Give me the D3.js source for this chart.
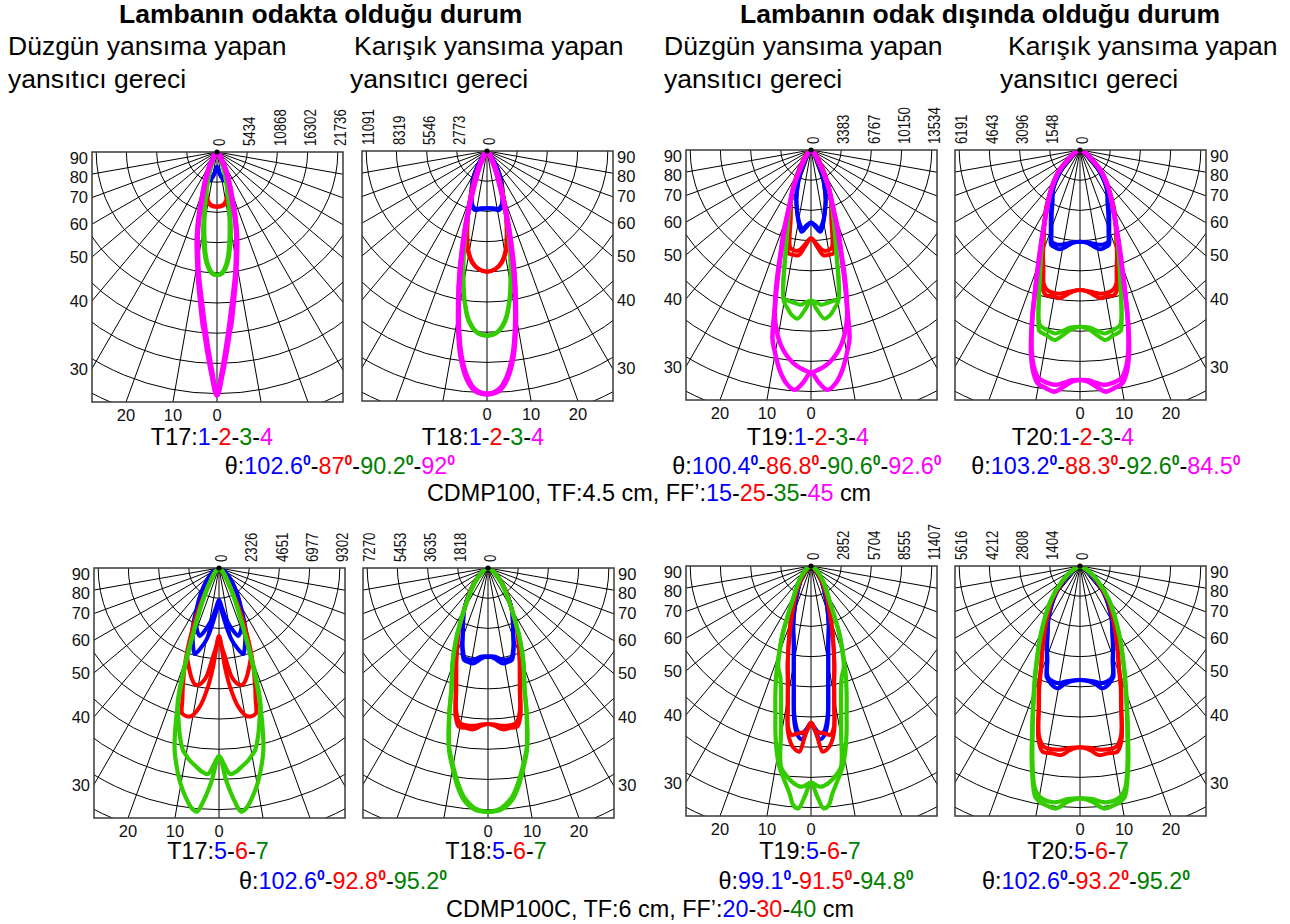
<!DOCTYPE html>
<html><head><meta charset="utf-8">
<script src="https://cdn.jsdelivr.net/npm/d3@7"></script>
<style>body{margin:0;background:#fff}svg{display:block}text{font-family:"Liberation Sans",Arial,sans-serif}</style>
</head><body><svg id="c" width="1290" height="924"></svg>
<script>
// ---------- intensity tick labels (cd) ----------
const T17T_TICKS=[0,5434,10868,16302,21736];
const T18T_TICKS=[0,2773,5546,8319,11091];
const T19T_TICKS=[0,3383,6767,10150,13534];
const T20T_TICKS=[0,1548,3096,4643,6191];
const T17B_TICKS=[0,2326,4651,6977,9302];
const T18B_TICKS=[0,1818,3635,5453,7270];
const T19B_TICKS=[0,2852,5704,8555,11407];
const T20B_TICKS=[0,1404,2808,4212,5616];
const SIDE_ANGLES=[90,80,70,60,50,40,30];
const BOTTOM_ANGLES=[20,10,0];

// ---------- curves: [angle from nadir (deg), intensity (cd)], two planes per lamp ----------
const T17T_1=[[[0,2640],[5,3480],[8,4260],[13,5220],[17,5520],[20.5,4800],[22.6,3900],[26.6,2700],[31,1380],[45,360],[90,0]],
 [[0,2640],[5,3300],[8,4080],[13,5040],[17,5340],[20.5,4620],[23,3720],[27,2580],[31,1320],[45,360],[90,0]]];
const T17T_2=[[[0,9840],[7,9660],[11.7,8880],[14.8,7740],[17.7,6300],[21.8,4500],[26.6,2700],[33.7,1080],[60,120],[90,0]],
 [[0,9840],[7,9540],[11.7,8640],[14.8,7500],[17.7,6180],[21.8,4440],[26.6,2640],[33.7,1080],[60,120],[90,0]]];
const T17T_3=[[[0,22140],[2.4,21900],[4.6,20760],[6.2,19320],[8.1,16980],[10.3,14040],[11.5,12000],[13.5,9600],[15.7,7080],[20,3840],[25,1800],[40,480],[90,0]],
 [[0,22140],[2.4,21700],[4.6,20300],[6.2,18600],[8.1,15800],[10.3,12600],[12,10200],[14,8100],[16,6300],[20,3800],[25,1800],[40,480],[90,0]]];
const T17T_4=[[[0,43740],[1.3,40200],[2.7,36060],[4,32460],[4.6,31320],[6.3,27180],[8.4,23040],[11.7,17760],[13,16020],[15.4,12420],[17.4,9420],[20.8,6420],[26.6,3360],[31,1380],[45,480],[90,0]],
 [[0,43740],[1.3,39600],[2.7,35200],[4,31500],[5,29000],[6.5,25800],[8.6,22200],[11.7,17200],[13,15600],[15.4,12200],[17.4,9300],[20.8,6300],[26.6,3300],[31,1350],[45,480],[90,0]]];

const T18T_1=[[[0,5263],[6.6,5355],[11.1,5539],[15.3,5233],[19.9,4223],[24.2,3366],[28.5,2448],[31.9,1622],[36.9,765],[60,150],[90,0]],
 [[0,5263],[6.6,5300],[11.1,5420],[15.3,5110],[19.9,4130],[24.2,3300],[28.5,2400],[31.9,1600],[36.9,760],[60,150],[90,0]]];
const T18T_2=[[[0,11077],[4,10894],[7.6,10343],[10.8,9333],[13.5,7864],[16.2,6365],[19.1,4865],[22.8,3305],[27,1897],[32.5,796],[60,150],[90,0]],
 [[0,11077],[4,10850],[7.6,10250],[10.8,9200],[13.5,7750],[16.2,6280],[19.1,4800],[22.8,3260],[27,1870],[32.5,790],[60,150],[90,0]]];
const T18T_3=[[[0,16952],[3.2,16708],[6.2,15698],[8.6,13923],[10.7,11842],[13.1,9425],[15.3,7283],[18,5141],[21.8,3305],[26.6,1714],[31,704],[60,150],[90,0]],
 [[0,16952],[3.2,16650],[6.2,15550],[8.6,13750],[10.7,11650],[13.1,9280],[15.3,7180],[18,5080],[21.8,3270],[26.6,1700],[31,700],[60,150],[90,0]]];
const T18T_4=[[[0,22307],[2.8,22063],[5,21053],[7.2,19125],[9,16738],[10.8,14015],[12.5,11597],[14,9455],[15.8,7313],[18,5141],[20.8,3274],[25.6,1683],[31,704],[60,150],[90,0]],
 [[0,22307],[2.8,21950],[5,20850],[7.2,18900],[9,16550],[10.8,13850],[12.5,11450],[14,9350],[15.8,7250],[18,5100],[20.8,3250],[25.6,1670],[31,700],[60,150],[90,0]]];

const T19T_1=[[[0,8131],[3,8579],[6.5,9213],[9,8504],[11.3,7609],[14,6639],[16.4,5819],[20,4476],[25,2984],[30,1679],[40,560],[90,0]],
 [[0,8131],[3,8393],[6,8877],[9,8281],[12,7311],[15,6266],[17,5595],[20,4401],[25,2909],[30,1641],[40,560],[90,0]]];
const T19T_2=[[[0,9885],[3,10631],[5,11377],[6.8,11899],[9.5,11899],[12.4,11824],[14,10444],[16,8542],[19,7087],[22,6043],[26,4476],[30,3021],[36,1679],[50,448],[90,0]],
 [[0,9885],[3,10444],[6,11190],[8,11414],[10,11377],[12,11190],[14,9885],[16,8281],[19,6938],[22,5893],[26,4401],[30,2984],[36,1641],[50,448],[90,0]]];
const T19T_3=[[[0,16860],[2,17829],[4.5,18948],[6.5,18650],[8.5,17904],[10.3,17158],[12,14734],[13.5,12272],[16,9698],[19,7647],[21.8,6043],[25,4663],[28.5,2984],[35.8,1156],[50,298],[90,0]],
 [[0,16860],[2,17083],[3.7,17382],[6,17233],[8.5,17083],[10.3,16972],[12,14920],[13.5,12496],[16,9773],[19,7647],[21.8,6043],[25,4663],[28.5,2984],[35.8,1156],[50,298],[90,0]]];
const T19T_4=[[[0,24916],[2,26110],[4,26931],[6,26297],[8,24991],[10,23126],[11.5,21634],[13,17904],[14.5,14920],[16,12309],[18,9773],[21.8,6341],[25,4663],[28.5,3059],[35.8,1194],[50,298],[90,0]],
 [[0,24916],[2,24618],[4,24170],[6,23499],[8,22567],[10,21261],[12,19396],[13.5,17158],[15,14547],[16.5,11936],[18.5,9698],[21.8,6266],[25,4663],[28.5,3059],[35.8,1194],[50,298],[90,0]]];

const T20T_1=[[[0,4700],[4,4751],[8,4990],[11.4,5195],[14,5161],[17,5076],[18.7,4683],[21,4187],[23.7,3726],[28,3093],[34.3,2495],[41.5,1606],[49.4,786],[65,205],[90,0]],
 [[0,4700],[4,4734],[8,4837],[11.4,4956],[14,4990],[17,4922],[19,4478],[21.5,3965],[24,3555],[28,2991],[34.3,2427],[41.5,1572],[49.4,769],[65,205],[90,0]]];
const T20T_2=[[[0,7178],[3,7263],[6,7520],[8,7673],[10,7622],[13.2,7639],[15,7383],[17,6545],[19.3,5794],[22,5042],[25.9,4187],[30,3503],[36,2529],[43.7,1658],[51,820],[65,239],[90,0]],
 [[0,7178],[3,7229],[6,7349],[8,7434],[10,7451],[13,7383],[15,7144],[17,6409],[19.5,5674],[22,4956],[26,4136],[30,3469],[36,2512],[43.7,1641],[51,820],[65,239],[90,0]]];
const T20T_3=[[[0,9058],[3,9229],[5.5,9570],[7.7,9827],[10,9656],[12.7,9502],[13.5,9143],[16.2,7468],[20.1,5828],[25.9,4187],[36,2529],[43.7,1658],[51,820],[65,239],[90,0]],
 [[0,9058],[3,9109],[5.5,9314],[7.7,9485],[10,9400],[12.7,9229],[13.8,8887],[16.5,7349],[20.3,5742],[26,4153],[36,2512],[43.7,1641],[51,820],[65,239],[90,0]]];
const T20T_4=[[[0,11792],[2,11878],[4,12168],[6.1,12459],[8,12339],[10.3,12151],[11.5,11792],[13.3,10886],[15.5,9229],[17.7,7537],[20.9,5845],[25.9,4187],[36,2529],[43.7,1658],[51,820],[65,239],[90,0]],
 [[0,11792],[2,11810],[4,11963],[6,12100],[8,12048],[10.3,11878],[11.8,11450],[13.5,10596],[15.7,9058],[17.9,7451],[21,5811],[26,4170],[36,2529],[43.7,1658],[51,820],[65,239],[90,0]]];

const T17B_5=[[[0,2464],[3.9,2978],[6.5,3594],[9.6,4313],[13,5006],[15.9,5442],[18,5262],[21,4852],[24,4313],[27.6,3645],[35,2439],[45,1284],[60,462],[90,0]],
 [[0,2464],[2,2952],[5.1,3774],[8,4877],[10,5622],[13,6366],[15.8,6880],[18,6418],[20.5,5776],[23.3,5185],[28.4,3671],[35,2439],[45,1284],[60,462],[90,0]]];
const T17B_6=[[[0,5237],[2,6032],[3.9,6854],[6.6,8420],[8.5,8933],[10.2,9164],[12,9113],[14,8728],[16,8214],[18,7701],[19.5,7316],[21,6546],[22.9,5391],[26.6,3286],[30.5,1643],[40,642],[55,205],[90,0]],
 [[0,5237],[2,6289],[3.5,7701],[5.3,9190],[7.9,10781],[10.6,11603],[12.5,11680],[14.2,11552],[15.5,10550],[17,9498],[19.2,8035],[21,6803],[22.9,5468],[26.6,3337],[30.5,1669],[40,642],[55,205],[90,0]]];
const T17B_7=[[[0,14478],[1.5,15145],[3.1,15890],[5,15710],[6.5,15402],[8.5,15017],[10,14632],[11.2,14298],[13,13348],[15,12065],[17,10910],[19,8471],[21,5930],[26.6,2747],[32,1412],[45,385],[90,0]],
 [[0,14478],[2,16429],[3.8,17969],[5.2,18842],[6.5,18611],[8,17969],[10,16942],[12,15659],[13.7,14427],[16,11911],[18.1,9344],[21,5930],[26.6,2747],[32,1412],[45,385],[90,0]]];

const T18B_5=[[[0,5319],[4,5459],[9,5820],[12,5780],[14.6,5720],[16.5,5379],[18.1,4977],[21,4255],[24,3713],[29.7,2910],[38.2,1686],[50,702],[65,201],[90,0]],
 [[0,5319],[4,5339],[9,5580],[12,5620],[14.6,5580],[16.5,5258],[18.3,4897],[21,4215],[24,3673],[29.7,2890],[38.2,1666],[50,702],[65,201],[90,0]]];
const T18B_6=[[[0,9393],[2.5,9513],[5.3,9754],[8,9714],[10.4,9714],[12.3,9152],[14.5,7787],[17,6623],[19,5921],[22.2,4897],[25,4215],[29.7,2910],[38.2,1686],[50,702],[65,201],[90,0]],
 [[0,9393],[2.5,9433],[5,9533],[8,9553],[10.4,9473],[12.5,8831],[14.5,7627],[17,6523],[19,5820],[22.2,4857],[25,4175],[29.7,2890],[38.2,1666],[50,702],[65,201],[90,0]]];
const T18B_7=[[[0,14671],[2.9,14591],[5.9,14049],[8,13246],[10.2,12142],[12.1,11199],[14.7,9252],[17,7526],[19.9,6322],[22,5519],[25.1,4355],[32.9,2288],[42,1204],[55,442],[70,120],[90,0]],
 [[0,14671],[3,14491],[6,13848],[8,13046],[10.2,12002],[12.2,11039],[14.8,9072],[17,7466],[20,6262],[22,5459],[25.1,4315],[32.9,2268],[42,1204],[55,442],[70,120],[90,0]]];

const T19B_5=[[[0,14859],[1.5,15583],[3,16401],[4.5,16055],[5.5,15425],[6.5,14323],[8,11805],[10,9444],[12.5,7555],[16.8,5824],[22,4029],[30,2361],[40,1196],[55,378],[90,0]],
 [[0,14859],[1.5,15362],[3,15803],[4.5,15677],[5.5,15047],[6.5,14009],[8,11585],[10,9318],[12.5,7492],[16.8,5761],[22,3998],[30,2330],[40,1196],[55,378],[90,0]]];
const T19B_6=[[[0,14796],[2,16055],[3.6,17566],[5,17377],[6.5,16842],[8,15740],[9.5,13379],[11.2,11301],[13.5,9444],[17.8,6674],[22,4722],[30,2676],[40,1259],[55,378],[90,0]],
 [[0,14796],[1,15268],[1.7,15646],[3,15740],[5,15897],[6.5,16055],[8,15425],[9.5,13222],[11.2,11175],[13.5,9381],[17.8,6611],[22,4722],[30,2676],[40,1259],[55,378],[90,0]]];
const T19B_7=[[[0,20462],[1.5,21721],[3,22917],[4.2,22666],[5.4,21564],[7,20462],[9,19171],[10.5,17786],[12,16149],[13.3,14607],[15.5,12592],[18,10546],[20.5,8500],[22.8,6894],[28.3,3652],[38,1889],[50,787],[65,252],[90,0]],
 [[0,20462],[1,20619],[1.7,20777],[3,20840],[5,20462],[7,19832],[8.5,19171],[10.2,16055],[12,13631],[13.5,12120],[15.5,10861],[18,10011],[20.5,8342],[22.8,6831],[28.3,3620],[38,1889],[50,787],[65,252],[90,0]]];

const T20B_5=[[[0,5301],[4,5363],[7.5,5549],[10.3,5782],[13,5704],[15.5,5503],[16.8,5379],[19,4728],[21.6,4201],[25,3596],[31.7,2775],[41.3,1690],[49,760],[65,186],[90,0]],
 [[0,5301],[4,5332],[7.5,5425],[10.3,5534],[13,5518],[15.5,5425],[17,5239],[19,4650],[21.6,4154],[25,3565],[31.7,2744],[41.3,1674],[49,744],[65,186],[90,0]]];
const T20B_6=[[[0,8432],[3,8556],[5.7,8835],[8.5,8804],[11.4,8804],[13.4,8324],[16.4,6820],[18.5,6045],[21.2,5022],[24,4340],[27.9,3550],[33,2790],[39.5,2046],[48,1085],[60,388],[90,0]],
 [[0,8432],[3,8463],[5.7,8572],[8.5,8618],[11.4,8556],[13.5,8138],[16.5,6696],[18.5,5968],[21.2,4960],[24,4309],[27.9,3534],[33,2775],[39.5,2031],[48,1085],[60,388],[90,0]]];
const T20B_7=[[[0,10804],[3,10974],[5.7,11331],[8,11238],[9.8,11114],[11,10928],[13.5,9595],[16,8091],[19.2,6603],[23.6,5115],[30.1,3612],[40.5,2077],[50,1054],[62,341],[90,0]],
 [[0,10804],[3,10850],[5.7,11036],[8,11036],[10,10881],[11.5,10540],[13.5,9455],[16,7983],[19.2,6541],[23.6,5084],[30.1,3596],[40.5,2062],[50,1054],[62,341],[90,0]]];

// ---------- text data ----------
const LAMPS_TOP=['1','2','3','4'];
const LAMPS_BOT=['5','6','7'];
const THETA_T17_T18_TOP=[102.6,87,90.2,92];
const THETA_T19_TOP=[100.4,86.8,90.6,92.6];
const THETA_T20_TOP=[103.2,88.3,92.6,84.5];
const THETA_T17_T18_BOT=[102.6,92.8,95.2];
const THETA_T19_BOT=[99.1,91.5,94.8];
const THETA_T20_BOT=[102.6,93.2,95.2];
const FF_TOP=[15,25,35,45];
const FF_BOT=[20,30,40];

const CURVE_COLORS=['#0000ff','#ff0000','#33cc00','#ff00ff'];
const TEXT_COLORS=['#0000ff','#ff0000','#008000','#ff00ff'];

const svg=d3.select('#c');
const PW=251, PH=250, HALF=125, PX_STEP=30.2;

const panels=[
 {id:'p1',x:92, y:152,side:'L',ticks:T17T_TICKS,series:[T17T_1,T17T_2,T17T_3,T17T_4],w:[4,4,4,5]},
 {id:'p2',x:362,y:151,side:'R',ticks:T18T_TICKS,series:[T18T_1,T18T_2,T18T_3,T18T_4],w:[4,4,4,5]},
 {id:'p3',x:686,y:150,side:'L',ticks:T19T_TICKS,series:[T19T_1,T19T_2,T19T_3,T19T_4],w:[4,4,4,4.5]},
 {id:'p4',x:955,y:150,side:'R',ticks:T20T_TICKS,series:[T20T_1,T20T_2,T20T_3,T20T_4],w:[4,4,4,4.5]},
 {id:'p5',x:94, y:568,side:'L',ticks:T17B_TICKS,series:[T17B_5,T17B_6,T17B_7],w:[4,4,4.2]},
 {id:'p6',x:363,y:568,side:'R',ticks:T18B_TICKS,series:[T18B_5,T18B_6,T18B_7],w:[4,4,4.2]},
 {id:'p7',x:686,y:566,side:'L',ticks:T19B_TICKS,series:[T19B_5,T19B_6,T19B_7],w:[4,4,4.2]},
 {id:'p8',x:955,y:566,side:'R',ticks:T20B_TICKS,series:[T20B_5,T20B_6,T20B_7],w:[4,4,4.2]}
];

const defs=svg.append('defs');
const rad=d=>d*Math.PI/180;

panels.forEach(p=>{
  const cx=p.x+HALF, cy=p.y;
  const r=d3.scaleLinear().domain([0,p.ticks[4]]).range([0,4*PX_STEP]);
  const step=p.ticks[1];
  defs.append('clipPath').attr('id','clip-'+p.id).append('rect')
    .attr('x',p.x).attr('y',p.y).attr('width',PW).attr('height',PH);
  const g=svg.append('g');
  const inner=g.append('g').attr('clip-path',`url(#clip-${p.id})`);
  d3.range(1,11).forEach(k=>{
    inner.append('circle').attr('cx',cx).attr('cy',cy).attr('r',r(step*k))
      .attr('fill','none').attr('stroke','#000').attr('stroke-width',1);
  });
  d3.range(-80,81,10).forEach(a=>{
    inner.append('line').attr('x1',cx).attr('y1',cy)
      .attr('x2',cx+420*Math.sin(rad(a))).attr('y2',cy+420*Math.cos(rad(a)))
      .attr('stroke','#000').attr('stroke-width',1);
  });
  const line=d3.line().curve(d3.curveCatmullRom.alpha(0.5));
  p.series.forEach((planes,i)=>{
    planes.forEach(plane=>{
      const pts=[];
      plane.slice().reverse().forEach(([a,v])=>pts.push([-a,v]));
      plane.slice(1).forEach(([a,v])=>pts.push([a,v]));
      const xy=pts.map(([a,v])=>[cx+r(v)*Math.sin(rad(a)), cy+r(v)*Math.cos(rad(a))]);
      inner.append('path').attr('d',line(xy)).attr('fill','none')
        .attr('stroke',CURVE_COLORS[i]).attr('stroke-width',p.w[i])
        .attr('stroke-linejoin','round');
    });
  });
  g.append('rect').attr('x',p.x).attr('y',p.y).attr('width',PW).attr('height',PH)
    .attr('fill','none').attr('stroke','#3a3a3a').attr('stroke-width',1.5);
  g.append('circle').attr('cx',cx).attr('cy',cy).attr('r',2.6).attr('fill','#000');
  const dir = p.side==='L'?1:-1;
  p.ticks.forEach(t=>{
    const x=cx+dir*r(t)+2;
    g.append('text').attr('transform',`translate(${x},${p.y-6}) rotate(-90) scale(0.78,1)`)
      .attr('dominant-baseline','central').attr('font-size',17).attr('fill','#111').text(t);
  });
  SIDE_ANGLES.forEach(a=>{
    let y = a===90 ? cy+5.5 : cy+HALF/Math.tan(rad(a));
    if(a===80) y+=2.5;
    const t=g.append('text').attr('y',y).attr('dominant-baseline','central').attr('font-size',16.5).attr('fill','#111').text(a);
    if(p.side==='L') t.attr('x',p.x-4).attr('text-anchor','end');
    else t.attr('x',p.x+PW+4).attr('text-anchor','start');
  });
  BOTTOM_ANGLES.forEach(a=>{
    const x = cx - dir*PH*Math.tan(rad(a));
    g.append('text').attr('x',x).attr('y',p.y+PH+13).attr('dominant-baseline','central')
      .attr('text-anchor','middle').attr('font-size',16.5).attr('fill','#111').text(a);
  });
});

function rich(x,y,parts,size){
  const t=svg.append('text').attr('x',x).attr('y',y).attr('font-size',size).attr('text-anchor','middle');
  let raised=false;
  parts.forEach(p=>{
    const s=t.append('tspan').text(p.t).attr('fill',p.c||'#000');
    if(p.sup){
      s.attr('font-size',size*0.6).attr('font-weight','bold');
      if(!raised){s.attr('dy',-size*0.38); raised=true;}
    } else if(raised){ s.attr('dy',size*0.38); raised=false; }
  });
}
function lampLine(name,lamps){
  const parts=[{t:name+':'}];
  lamps.forEach((l,i)=>{ if(i) parts.push({t:'-'}); parts.push({t:l,c:TEXT_COLORS[i]}); });
  return parts;
}
function thetaLine(vals){
  const parts=[{t:'θ:'}];
  vals.forEach((v,i)=>{ if(i) parts.push({t:'-'}); parts.push({t:String(v),c:TEXT_COLORS[i]}); parts.push({t:'0',c:TEXT_COLORS[i],sup:true}); });
  return parts;
}
function ffLine(prefix,vals){
  const parts=[{t:prefix}];
  vals.forEach((v,i)=>{ if(i) parts.push({t:'-'}); parts.push({t:String(v),c:TEXT_COLORS[i]}); });
  parts.push({t:' cm'});
  return parts;
}

svg.append('text').attr('x',119).attr('y',23).attr('font-size',26.5).attr('font-weight','bold').text('Lambanın odakta olduğu durum');
svg.append('text').attr('x',740).attr('y',23).attr('font-size',26.5).attr('font-weight','bold').text('Lambanın odak dışında olduğu durum');
[[8,'Düzgün yansıma yapan',8],[354,'Karışık yansıma yapan',350],[664,'Düzgün yansıma yapan',664],[1008,'Karışık yansıma yapan',1000]].forEach(([x1,s,x2])=>{
  svg.append('text').attr('x',x1).attr('y',55).attr('font-size',26.5).text(s);
  svg.append('text').attr('x',x2).attr('y',88).attr('font-size',26.5).text('yansıtıcı gereci');
});

const FS=23.4;
rich(212,445,lampLine('T17',LAMPS_TOP),FS);
rich(483,445,lampLine('T18',LAMPS_TOP),FS);
rich(808,445,lampLine('T19',LAMPS_TOP),FS);
rich(1073,445,lampLine('T20',LAMPS_TOP),FS);
rich(340,473.5,thetaLine(THETA_T17_T18_TOP),FS);
rich(807,473.5,thetaLine(THETA_T19_TOP),FS);
rich(1106,473.5,thetaLine(THETA_T20_TOP),FS);
rich(649,501,ffLine('CDMP100, TF:4.5 cm, FF’:',FF_TOP),FS);

rich(218,859,lampLine('T17',LAMPS_BOT),FS);
rich(496,859,lampLine('T18',LAMPS_BOT),FS);
rich(810,859,lampLine('T19',LAMPS_BOT),FS);
rich(1078,859,lampLine('T20',LAMPS_BOT),FS);
rich(343,888.5,thetaLine(THETA_T17_T18_BOT),FS);
rich(816,888.5,thetaLine(THETA_T19_BOT),FS);
rich(1086,888.5,thetaLine(THETA_T20_BOT),FS);
rich(650,917,ffLine('CDMP100C, TF:6 cm, FF’:',FF_BOT),FS);
</script></body></html>
